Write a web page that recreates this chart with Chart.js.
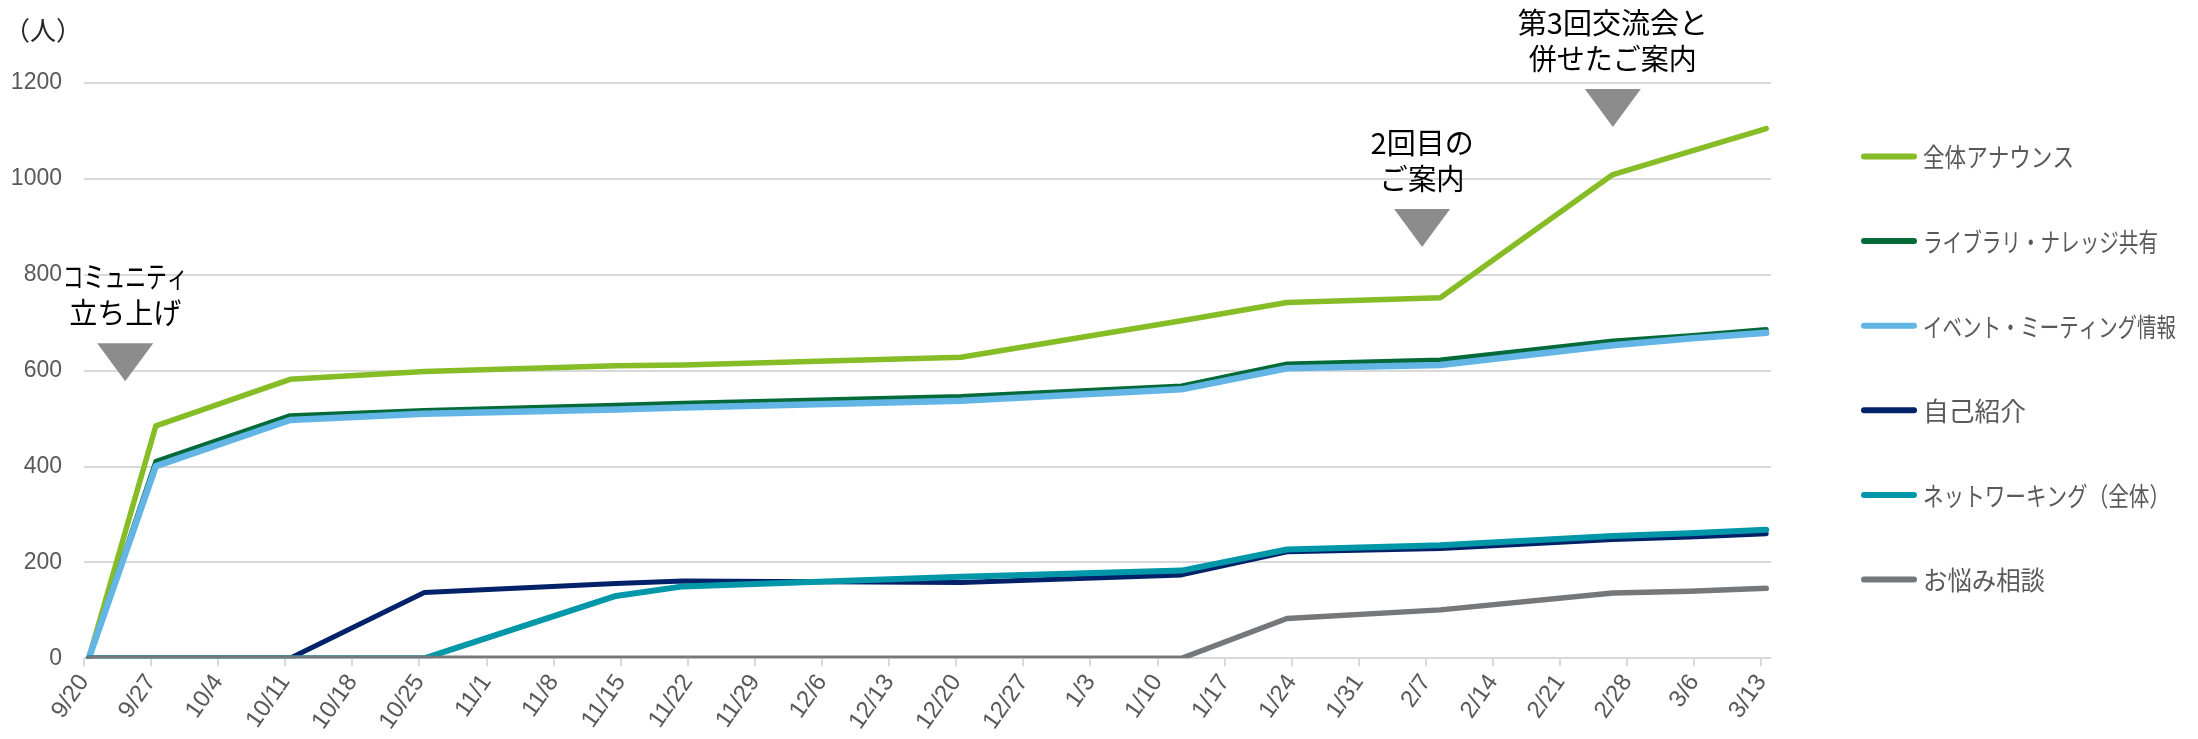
<!DOCTYPE html>
<html>
<head>
<meta charset="utf-8">
<style>
  html, body { margin: 0; padding: 0; background: #fff; }
  #wrap { width: 2198px; height: 739px; }
</style>
<script src="https://cdn.jsdelivr.net/npm/chart.js@4.4.1/dist/chart.umd.min.js"></script>
</head>
<body>
<div id="wrap"><canvas id="chart" width="2198" height="739"></canvas></div>
<script>
// counting dates (Sep 2019 - Mar 2020)
var pointDates = ["9/20", "9/27", "10/11", "10/25", "11/14", "11/21", "12/20",
  "1/12", "1/23", "2/8", "2/26", "3/5", "3/13"];

var announce   = [0, 485, 582, 598, 610, 612, 628, 704, 742, 752, 1009, 1057, 1105];
var library    = [0, 411, 506, 517, 528, 532, 546, 568, 614, 622, 662, 673, 686];
var events     = [0, 401, 497, 510, 519, 523, 537, 561, 605, 612, 653, 667, 679];
var selfIntro  = [0, 0, 0, 137, 156, 161, 158, 174, 222, 229, 248, 253, 260];
var networking = [0, 0, 0, 0, 130, 150, 170, 183, 227, 236, 255, 261, 268];
var worries    = [0, 0, 0, 0, 0, 0, 0, 0, 83, 101, 136, 140, 146];

var seriesNames = ["全体アナウンス", "ライブラリ・ナレッジ共有", "イベント・ミーティング情報",
  "自己紹介", "ネットワーキング（全体）", "お悩み相談"];
var seriesValues = [announce, library, events, selfIntro, networking, worries];

var tickLabels = ["9/20", "9/27", "10/4", "10/11", "10/18", "10/25", "11/1", "11/8",
  "11/15", "11/22", "11/29", "12/6", "12/13", "12/20", "12/27", "1/3", "1/10", "1/17",
  "1/24", "1/31", "2/7", "2/14", "2/21", "2/28", "3/6", "3/13"];
var yTicks = [0, 200, 400, 600, 800, 1000, 1200];

// styles
var colors = ["#86BC25", "#046A38", "#62B5E5", "#012169", "#0097A9", "#75787B"];
var widths = [5.5, 5, 6.5, 5, 6, 5.5];
var legendTextWidths = [151, 235, 253, 103, 247, 122];

// event markers: x in days from 9/20, tip value, text lines
var markers = [
  { day: 4.3, tip: 578, lines: ["コミュニティ", "立ち上げ"], widths: [125, 112] },
  { day: 139.6, tip: 858, lines: ["2回目の", "ご案内"], widths: [107, 85] },
  { day: 159.5, tip: 1108, lines: ["第3回交流会と", "併せたご案内"], widths: [198, 168] }
];

var JP = "'Noto Sans CJK JP', 'Noto Sans', sans-serif";
var NUM = "'Liberation Sans', Arial, sans-serif";

function dayOffset(md) {
  var p = md.split("/");
  var m = +p[0], d = +p[1];
  var y = m >= 9 ? 2019 : 2020;
  return Math.round((Date.UTC(y, m - 1, d) - Date.UTC(2019, 8, 20)) / 86400000);
}

var datasets = seriesNames.map(function (name, i) {
  return {
    label: name,
    // points sit in the middle of their day, like the original date axis
    data: seriesValues[i].map(function (v, j) {
      return { x: dayOffset(pointDates[j]) + 0.5, y: v };
    }),
    borderColor: colors[i],
    backgroundColor: colors[i],
    borderWidth: widths[i],
    borderCapStyle: "round",
    borderJoinStyle: "round",
    pointRadius: 0,
    tension: 0,
    fill: false,
    order: -i
  };
});

var extras = {
  id: "extras",
  afterDraw: function (chart) {
    var ctx = chart.ctx;
    var xs = chart.scales.x, ys = chart.scales.y;
    ctx.save();

    // unit
    ctx.fillStyle = "#262626";
    ctx.font = "26px " + JP;
    ctx.textAlign = "center";
    ctx.textBaseline = "middle";
    ctx.fillText("（人）", 43, 30);

    // event markers
    markers.forEach(function (m) {
      var x = xs.getPixelForValue(m.day);
      var tipY = ys.getPixelForValue(m.tip);
      var top = tipY - 38;
      ctx.fillStyle = "#8C8C8C";
      ctx.beginPath();
      ctx.moveTo(x - 28, top);
      ctx.lineTo(x + 28, top);
      ctx.lineTo(x, tipY);
      ctx.closePath();
      ctx.fill();

      ctx.fillStyle = "#000";
      ctx.font = "29px " + JP;
      ctx.fillText(m.lines[1], x, top - 30, m.widths[1]);
      ctx.fillText(m.lines[0], x, top - 66, m.widths[0]);
    });

    // legend
    ctx.textAlign = "left";
    ctx.font = "26px " + JP;
    chart.data.datasets.forEach(function (ds, i) {
      var y = 156.5 + i * 84.6;
      ctx.strokeStyle = ds.borderColor;
      ctx.lineWidth = 6;
      ctx.lineCap = "round";
      ctx.beginPath();
      ctx.moveTo(1864, y);
      ctx.lineTo(1914, y);
      ctx.stroke();
      ctx.fillStyle = "#595959";
      ctx.fillText(ds.label, 1923, y + 1, legendTextWidths[i]);
    });
    ctx.restore();
  }
};

new Chart(document.getElementById("chart").getContext("2d"), {
  type: "line",
  data: { datasets: datasets },
  options: {
    responsive: false,
    animation: false,
    devicePixelRatio: 1,
    layout: { padding: { top: 83, right: 427, bottom: 0, left: 0 } },
    scales: {
      x: {
        type: "linear",
        min: 0,
        max: 176,
        afterBuildTicks: function (scale) {
          scale.ticks = tickLabels.map(function (t, i) { return { value: i * 7 }; });
        },
        afterFit: function (scale) { scale.height = 80.7; },
        ticks: {
          autoSkip: false,
          maxRotation: 55,
          minRotation: 55,
          padding: 3,
          color: "#595959",
          font: { family: NUM, size: 24 },
          callback: function (v) { return tickLabels[Math.round(v / 7)]; }
        },
        grid: {
          drawOnChartArea: false,
          drawTicks: true,
          tickLength: 8,
          color: "#D9D9D9",
          lineWidth: 2
        },
        border: { display: false }
      },
      y: {
        min: 0,
        max: 1200,
        afterBuildTicks: function (scale) {
          scale.ticks = yTicks.map(function (v) { return { value: v }; });
        },
        afterFit: function (scale) { scale.width = 84; },
        ticks: {
          padding: 22,
          color: "#595959",
          font: { family: NUM, size: 23 },
          callback: function (v) { return String(v); }
        },
        grid: { color: "#D9D9D9", lineWidth: 2, drawTicks: false },
        border: { display: false }
      }
    },
    plugins: {
      legend: { display: false },
      tooltip: { enabled: false },
      extras: {}
    }
  },
  plugins: [extras]
});
</script>
</body>
</html>
